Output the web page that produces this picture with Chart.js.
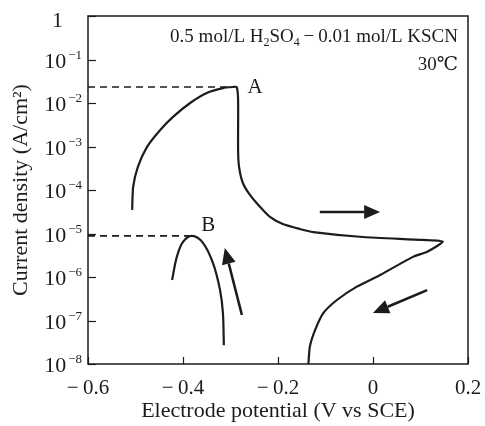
<!DOCTYPE html>
<html>
<head>
<meta charset="utf-8">
<script src="https://cdn.jsdelivr.net/npm/chart.js@4.4.0/dist/chart.umd.min.js"></script>
<style>
  html, body { margin: 0; padding: 0; background: #fff; }
  #wrap { width: 485px; height: 426px; }
</style>
</head>
<body>
<div id="wrap"><canvas id="polChart" width="485" height="426"></canvas></div>
<script>
// polarization curve, potential in V vs SCE, current density in A/cm2
const scanA_x = [-0.507, -0.505, -0.495, -0.476, -0.448, -0.421, -0.385, -0.350, -0.316, -0.295, -0.287,
  -0.284, -0.284, -0.282, -0.274, -0.259, -0.238, -0.217, -0.190, -0.154, -0.126, -0.021, 0.105, 0.147,
  0.114, 0.084, 0.015, -0.034, -0.076, -0.105, -0.122, -0.133, -0.136];
const scanA_y = [3.5e-5, 1.17e-4, 3.4e-4, 9.7e-4, 2.4e-3, 4.8e-3, 1.0e-2, 1.7e-2, 2.2e-2, 2.33e-2, 2.33e-2,
  1.17e-2, 8.3e-4, 3.4e-4, 1.45e-4, 7.7e-5, 4.1e-5, 2.4e-5, 1.65e-5, 1.27e-5, 1.08e-5, 8.3e-6, 7.1e-6, 6.5e-6,
  3.8e-6, 2.9e-6, 1.11e-6, 6.0e-7, 2.96e-7, 1.46e-7, 6.0e-8, 2.5e-8, 1.0e-8];
const scanB_x = [-0.423, -0.413, -0.400, -0.381, -0.358, -0.337, -0.322, -0.316, -0.314];
const scanB_y = [8.5e-7, 2.9e-6, 6.4e-6, 8.8e-6, 6.1e-6, 2.1e-6, 5.0e-7, 1.5e-7, 2.7e-8];

const peakNames = ['A', 'B'];
const peakX = [-0.295, -0.381];
const peakY = [2.33e-2, 8.8e-6];
const peakLabelX = [-0.248, -0.347];
const peakLabelY = [2.33e-2, 1.49e-5];

const xTickValues = [-0.6, -0.4, -0.2, 0, 0.2];
const yTickExps = [0, -1, -2, -3, -4, -5, -6, -7, -8];

// scan direction arrows: [x0, y0, x1, y1]
const scanArrows = [
  [-0.112, 3.12e-5, 0.015, 3.12e-5],
  [0.114, 5.0e-7, 0.0, 1.49e-7],
  [-0.276, 1.34e-7, -0.312, 4.65e-6]
];

const serif = '"Liberation Serif", "DejaVu Serif", serif';
const ink = '#1c1c1c';

function pts(xs, ys) {
  return xs.map((x, i) => ({ x: x, y: ys[i] }));
}

const dashSets = peakNames.map((n, i) => ({
  data: [{ x: -0.6, y: peakY[i] }, { x: peakX[i], y: peakY[i] }],
  showLine: true, borderColor: ink, borderWidth: 1.6, borderDash: [7, 5],
  pointRadius: 0, tension: 0
}));

function arrow(ctx, x0, y0, x1, y1) {
  const a = Math.atan2(y1 - y0, x1 - x0);
  const hl = 16, hw = 7;
  const bx = x1 - hl * Math.cos(a), by = y1 - hl * Math.sin(a);
  ctx.beginPath();
  ctx.moveTo(x0, y0);
  ctx.lineTo(bx, by);
  ctx.lineWidth = 2.6;
  ctx.stroke();
  ctx.beginPath();
  ctx.moveTo(x1, y1);
  ctx.lineTo(bx + hw * Math.sin(a), by - hw * Math.cos(a));
  ctx.lineTo(bx - hw * Math.sin(a), by + hw * Math.cos(a));
  ctx.closePath();
  ctx.fill();
}

const decor = {
  id: 'decor',
  afterDraw(chart) {
    const ctx = chart.ctx;
    const a = chart.chartArea;
    const xs = chart.scales.x, ys = chart.scales.y;
    ctx.save();
    ctx.strokeStyle = ink;
    ctx.fillStyle = ink;
    // frame
    ctx.lineWidth = 1.5;
    ctx.strokeRect(a.left, a.top, a.right - a.left, a.bottom - a.top);
    // inward ticks
    ctx.lineWidth = 1.2;
    xTickValues.forEach(v => {
      const px = Math.round(xs.getPixelForValue(v)) + 0.5;
      ctx.beginPath(); ctx.moveTo(px, a.bottom); ctx.lineTo(px, a.bottom - 7); ctx.stroke();
    });
    yTickExps.forEach(e => {
      const py = Math.round(ys.getPixelForValue(Math.pow(10, e))) + 0.5;
      ctx.beginPath(); ctx.moveTo(a.left, py); ctx.lineTo(a.left + 8, py); ctx.stroke();
    });
    // y tick labels 10^n
    ctx.textAlign = 'right';
    ctx.textBaseline = 'alphabetic';
    yTickExps.forEach(e => {
      const py = ys.getPixelForValue(Math.pow(10, e));
      if (e === 0) {
        ctx.font = '22px ' + serif;
        ctx.fillText('1', 63, py + 11);
        return;
      }
      const sup = '\u2212' + Math.abs(e);
      ctx.font = '13px ' + serif;
      const sw = ctx.measureText(sup).width;
      ctx.fillText(sup, 82, py - 1);
      ctx.font = '22px ' + serif;
      ctx.fillText('10', 82 - sw - 2, py + 8);
    });
    // condition note, right aligned
    const parts = [
      ['0.5 mol/L H', 19, 0], ['2', 12, 4], ['SO', 19, 0], ['4', 12, 4],
      ['\u2009\u2212\u2009', 19, 0], ['0.01 mol/L KSCN', 19, 0]
    ];
    ctx.textAlign = 'left';
    let total = 0;
    parts.forEach(p => { ctx.font = p[1] + 'px ' + serif; total += ctx.measureText(p[0]).width; });
    let cx = a.right - 10 - total;
    parts.forEach(p => {
      ctx.font = p[1] + 'px ' + serif;
      ctx.fillText(p[0], cx, 42 + p[2]);
      cx += ctx.measureText(p[0]).width;
    });
    ctx.textAlign = 'right';
    ctx.font = '19px ' + serif;
    ctx.fillText('30\u2103', a.right - 10, 70);
    // peak labels
    ctx.textAlign = 'center';
    ctx.textBaseline = 'middle';
    ctx.font = '21px ' + serif;
    peakNames.forEach((n, i) => {
      ctx.fillText(n, xs.getPixelForValue(peakLabelX[i]), ys.getPixelForValue(peakLabelY[i]));
    });
    // arrows
    scanArrows.forEach(r => {
      arrow(ctx, xs.getPixelForValue(r[0]), ys.getPixelForValue(r[1]),
        xs.getPixelForValue(r[2]), ys.getPixelForValue(r[3]));
    });
    ctx.restore();
  }
};

new Chart(document.getElementById('polChart').getContext('2d'), {
  type: 'scatter',
  data: {
    datasets: [
      { data: pts(scanA_x, scanA_y), showLine: true, borderColor: ink, borderWidth: 2.2,
        pointRadius: 0, tension: 0.2 },
      { data: pts(scanB_x, scanB_y), showLine: true, borderColor: ink, borderWidth: 2.2,
        pointRadius: 0, tension: 0.35 }
    ].concat(dashSets)
  },
  options: {
    responsive: false,
    animation: false,
    devicePixelRatio: 1,
    layout: { padding: { top: 16, right: 17, left: 0, bottom: 0 } },
    plugins: { legend: { display: false }, tooltip: { enabled: false } },
    scales: {
      x: {
        type: 'linear', min: -0.6, max: 0.2,
        afterBuildTicks: s => { s.ticks = xTickValues.map(v => ({ value: v })); },
        afterFit: s => { s.height = 62; s.paddingLeft = 0; s.paddingRight = 0; },
        grid: { display: false },
        border: { display: false },
        ticks: {
          padding: 4, color: ink, maxRotation: 0,
          font: { family: serif, size: 21 },
          callback: v => Math.abs(v) < 1e-9 ? '0' : (v < 0 ? '\u2212\u2009' + Math.abs(v).toFixed(1) : v.toFixed(1))
        },
        title: {
          display: true, text: 'Electrode potential (V vs SCE)', color: ink,
          font: { family: serif, size: 22 }, padding: { top: 0, bottom: 2 }
        }
      },
      y: {
        type: 'logarithmic', min: 1e-8, max: 1,
        afterFit: s => { s.width = 88; },
        grid: { display: false },
        border: { display: false },
        ticks: { display: false },
        title: {
          display: true, text: 'Current density (A/cm\u00b2)', color: ink,
          font: { family: serif, size: 22 }, padding: { top: 8, bottom: 0 }
        }
      }
    }
  },
  plugins: [decor]
});
</script>
</body>
</html>
